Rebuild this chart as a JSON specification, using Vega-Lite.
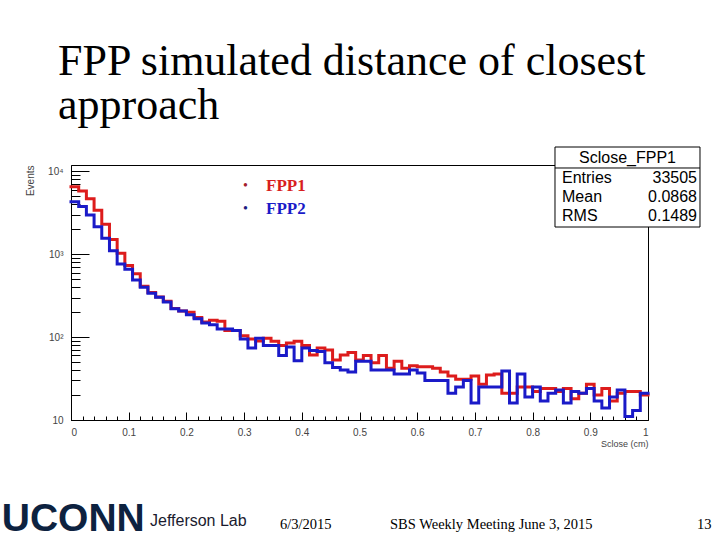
{
  "$schema": "https://vega.github.io/schema/vega-lite/v6.json",
  "width": 577,
  "height": 255,
  "autosize": "none",
  "padding": {"left": 71, "top": 165, "right": 72, "bottom": 120},
  "background": "white",
  "title": {
    "text": ["FPP simulated distance of closest", "approach"],
    "anchor": "start",
    "frame": "group",
    "font": "Liberation Serif",
    "fontSize": 44,
    "fontWeight": "normal",
    "color": "black",
    "lineHeight": 44,
    "dx": -13,
    "offset": 19
  },
  "config": {
    "view": {"stroke": "black", "strokeWidth": 1},
    "axis": {
      "grid": false,
      "domainColor": "black",
      "tickColor": "black",
      "labelFont": "Liberation Sans",
      "labelFontSize": 10,
      "labelColor": "#444",
      "titleFont": "Liberation Sans",
      "titleFontSize": 10,
      "titleFontWeight": "normal",
      "titleColor": "#444"
    }
  },
  "datasets": {
    "hist": [
      {"lo": 0, "hi": 0.01333, "FPP1": 6500, "FPP2": 4300},
      {"lo": 0.01333, "hi": 0.02667, "FPP1": 5800, "FPP2": 3750},
      {"lo": 0.02667, "hi": 0.04, "FPP1": 4650, "FPP2": 2970},
      {"lo": 0.04, "hi": 0.05333, "FPP1": 3400, "FPP2": 2150},
      {"lo": 0.05333, "hi": 0.06667, "FPP1": 2300, "FPP2": 1560},
      {"lo": 0.06667, "hi": 0.08, "FPP1": 1500, "FPP2": 1100},
      {"lo": 0.08, "hi": 0.09333, "FPP1": 1030, "FPP2": 764},
      {"lo": 0.09333, "hi": 0.10667, "FPP1": 730, "FPP2": 660},
      {"lo": 0.10667, "hi": 0.12, "FPP1": 580, "FPP2": 490},
      {"lo": 0.12, "hi": 0.13333, "FPP1": 410, "FPP2": 400},
      {"lo": 0.13333, "hi": 0.14667, "FPP1": 345, "FPP2": 339},
      {"lo": 0.14667, "hi": 0.16, "FPP1": 305, "FPP2": 303},
      {"lo": 0.16, "hi": 0.17333, "FPP1": 270, "FPP2": 265},
      {"lo": 0.17333, "hi": 0.18667, "FPP1": 222, "FPP2": 219},
      {"lo": 0.18667, "hi": 0.2, "FPP1": 207, "FPP2": 207},
      {"lo": 0.2, "hi": 0.21333, "FPP1": 200, "FPP2": 186},
      {"lo": 0.21333, "hi": 0.22667, "FPP1": 172, "FPP2": 166},
      {"lo": 0.22667, "hi": 0.24, "FPP1": 152, "FPP2": 148},
      {"lo": 0.24, "hi": 0.25333, "FPP1": 160, "FPP2": 141},
      {"lo": 0.25333, "hi": 0.26667, "FPP1": 155, "FPP2": 125},
      {"lo": 0.26667, "hi": 0.28, "FPP1": 120, "FPP2": 125},
      {"lo": 0.28, "hi": 0.29333, "FPP1": 120, "FPP2": 120},
      {"lo": 0.29333, "hi": 0.30667, "FPP1": 104, "FPP2": 95},
      {"lo": 0.30667, "hi": 0.32, "FPP1": 95, "FPP2": 74},
      {"lo": 0.32, "hi": 0.33333, "FPP1": 90, "FPP2": 97},
      {"lo": 0.33333, "hi": 0.34667, "FPP1": 97, "FPP2": 79},
      {"lo": 0.34667, "hi": 0.36, "FPP1": 89, "FPP2": 79},
      {"lo": 0.36, "hi": 0.37333, "FPP1": 79, "FPP2": 60},
      {"lo": 0.37333, "hi": 0.38667, "FPP1": 85, "FPP2": 76},
      {"lo": 0.38667, "hi": 0.4, "FPP1": 89, "FPP2": 52},
      {"lo": 0.4, "hi": 0.41333, "FPP1": 79, "FPP2": 74},
      {"lo": 0.41333, "hi": 0.42667, "FPP1": 61, "FPP2": 69},
      {"lo": 0.42667, "hi": 0.44, "FPP1": 74, "FPP2": 67},
      {"lo": 0.44, "hi": 0.45333, "FPP1": 70, "FPP2": 49},
      {"lo": 0.45333, "hi": 0.46667, "FPP1": 53, "FPP2": 43},
      {"lo": 0.46667, "hi": 0.48, "FPP1": 61, "FPP2": 40},
      {"lo": 0.48, "hi": 0.49333, "FPP1": 65, "FPP2": 38},
      {"lo": 0.49333, "hi": 0.50667, "FPP1": 53, "FPP2": 51},
      {"lo": 0.50667, "hi": 0.52, "FPP1": 60, "FPP2": 51},
      {"lo": 0.52, "hi": 0.53333, "FPP1": 49, "FPP2": 40},
      {"lo": 0.53333, "hi": 0.54667, "FPP1": 60, "FPP2": 40},
      {"lo": 0.54667, "hi": 0.56, "FPP1": 42, "FPP2": 40},
      {"lo": 0.56, "hi": 0.57333, "FPP1": 51, "FPP2": 36},
      {"lo": 0.57333, "hi": 0.58667, "FPP1": 42, "FPP2": 36},
      {"lo": 0.58667, "hi": 0.6, "FPP1": 45, "FPP2": 40},
      {"lo": 0.6, "hi": 0.61333, "FPP1": 44, "FPP2": 37},
      {"lo": 0.61333, "hi": 0.62667, "FPP1": 44, "FPP2": 30},
      {"lo": 0.62667, "hi": 0.64, "FPP1": 42, "FPP2": 30},
      {"lo": 0.64, "hi": 0.65333, "FPP1": 38, "FPP2": 30},
      {"lo": 0.65333, "hi": 0.66667, "FPP1": 34, "FPP2": 21},
      {"lo": 0.66667, "hi": 0.68, "FPP1": 31, "FPP2": 25},
      {"lo": 0.68, "hi": 0.69333, "FPP1": 31, "FPP2": 30},
      {"lo": 0.69333, "hi": 0.70667, "FPP1": 34, "FPP2": 16},
      {"lo": 0.70667, "hi": 0.72, "FPP1": 27, "FPP2": 25},
      {"lo": 0.72, "hi": 0.73333, "FPP1": 35, "FPP2": 25},
      {"lo": 0.73333, "hi": 0.74667, "FPP1": 36, "FPP2": 25},
      {"lo": 0.74667, "hi": 0.76, "FPP1": 21, "FPP2": 39},
      {"lo": 0.76, "hi": 0.77333, "FPP1": 21, "FPP2": 16},
      {"lo": 0.77333, "hi": 0.78667, "FPP1": 25, "FPP2": 36},
      {"lo": 0.78667, "hi": 0.8, "FPP1": 25, "FPP2": 19},
      {"lo": 0.8, "hi": 0.81333, "FPP1": 22, "FPP2": 25},
      {"lo": 0.81333, "hi": 0.82667, "FPP1": 24, "FPP2": 17},
      {"lo": 0.82667, "hi": 0.84, "FPP1": 24, "FPP2": 21},
      {"lo": 0.84, "hi": 0.85333, "FPP1": 22, "FPP2": 23},
      {"lo": 0.85333, "hi": 0.86667, "FPP1": 24, "FPP2": 16},
      {"lo": 0.86667, "hi": 0.88, "FPP1": 18, "FPP2": 22},
      {"lo": 0.88, "hi": 0.89333, "FPP1": 21, "FPP2": 21},
      {"lo": 0.89333, "hi": 0.90667, "FPP1": 27, "FPP2": 24},
      {"lo": 0.90667, "hi": 0.92, "FPP1": 20, "FPP2": 17},
      {"lo": 0.92, "hi": 0.93333, "FPP1": 24, "FPP2": 14},
      {"lo": 0.93333, "hi": 0.94667, "FPP1": 17, "FPP2": 19},
      {"lo": 0.94667, "hi": 0.96, "FPP1": 21, "FPP2": 23},
      {"lo": 0.96, "hi": 0.97333, "FPP1": 22, "FPP2": 11},
      {"lo": 0.97333, "hi": 0.98667, "FPP1": 22, "FPP2": 13},
      {"lo": 0.98667, "hi": 1, "FPP1": 20, "FPP2": 21}
    ]
  },
  "layer": [
    {
      "data": {"name": "hist"},
      "transform": [{"fold": ["lo", "hi"], "as": ["edge", "x"]}],
      "mark": {"type": "line", "color": "#dd1c1c", "strokeWidth": 3, "strokeJoin": "miter", "strokeCap": "square"},
      "encoding": {
        "x": {
          "field": "x", "type": "quantitative",
          "scale": {"domain": [0, 1], "nice": false, "zero": false},
          "axis": {
            "orient": "bottom",
            "values": [0, 0.1, 0.2, 0.3, 0.4, 0.5, 0.6, 0.7, 0.8, 0.9, 1],
            "format": "~g",
            "tickSize": -8,
            "labelPadding": 15,
            "title": "Sclose (cm)",
            "titleAnchor": "end",
            "titleFontSize": 9,
            "titlePadding": 2
          }
        },
        "y": {
          "field": "FPP1", "type": "quantitative",
          "scale": {"type": "log", "domain": [10, 11910], "nice": false},
          "axis": {
            "orient": "left",
            "values": [10, 100, 1000, 10000],
            "labelExpr": "datum.value >= 9000 ? '10⁴' : datum.value >= 900 ? '10³' : datum.value >= 90 ? '10²' : '10'",
            "tickSize": -18,
            "labelPadding": 26,
            "title": "Events",
            "titleAnchor": "end",
            "titlePadding": 12
          }
        },
        "order": [{"field": "x", "type": "quantitative"}, {"field": "edge", "type": "nominal"}]
      }
    },
    {
      "data": {"name": "hist"},
      "transform": [{"fold": ["lo", "hi"], "as": ["edge", "x"]}],
      "mark": {"type": "line", "color": "#1a1ac8", "strokeWidth": 3, "strokeJoin": "miter", "strokeCap": "square"},
      "encoding": {
        "x": {
          "field": "x", "type": "quantitative",
          "axis": {
            "orient": "bottom",
            "values": [0.02, 0.04, 0.06, 0.08, 0.12, 0.14, 0.16, 0.18, 0.22, 0.24, 0.26, 0.28, 0.32, 0.34, 0.36, 0.38, 0.42, 0.44, 0.46, 0.48, 0.52, 0.54, 0.56, 0.58, 0.62, 0.64, 0.66, 0.68, 0.72, 0.74, 0.76, 0.78, 0.82, 0.84, 0.86, 0.88, 0.92, 0.94, 0.96, 0.98],
            "tickSize": -4,
            "labels": false,
            "domain": false,
            "title": null
          }
        },
        "y": {
          "field": "FPP2", "type": "quantitative",
          "axis": {
            "orient": "left",
            "values": [20, 30, 40, 50, 60, 70, 80, 90, 200, 300, 400, 500, 600, 700, 800, 900, 2000, 3000, 4000, 5000, 6000, 7000, 8000, 9000],
            "tickSize": -9,
            "labels": false,
            "domain": false,
            "title": null
          }
        },
        "order": [{"field": "x", "type": "quantitative"}, {"field": "edge", "type": "nominal"}]
      }
    },
    {
      "data": {"values": [{}]},
      "mark": {"type": "text", "text": "•", "font": "Liberation Serif", "fontSize": 14, "color": "#a3202a", "align": "left", "baseline": "middle"},
      "encoding": {
        "x": {"datum": 0.2981, "type": "quantitative", "axis": null},
        "y": {"datum": 6646, "type": "quantitative", "axis": null}
      }
    },
    {
      "data": {"values": [{}]},
      "mark": {"type": "text", "text": "FPP1", "font": "Liberation Serif", "fontSize": 17, "fontWeight": "bold", "color": "#d81e1e", "align": "left", "baseline": "middle"},
      "encoding": {
        "x": {"datum": 0.338, "type": "quantitative", "axis": null},
        "y": {"datum": 6646, "type": "quantitative", "axis": null}
      }
    },
    {
      "data": {"values": [{}]},
      "mark": {"type": "text", "text": "•", "font": "Liberation Serif", "fontSize": 14, "color": "#1c1c80", "align": "left", "baseline": "middle"},
      "encoding": {
        "x": {"datum": 0.2981, "type": "quantitative", "axis": null},
        "y": {"datum": 3510, "type": "quantitative", "axis": null}
      }
    },
    {
      "data": {"values": [{}]},
      "mark": {"type": "text", "text": "FPP2", "font": "Liberation Serif", "fontSize": 17, "fontWeight": "bold", "color": "#1a1ac8", "align": "left", "baseline": "middle"},
      "encoding": {
        "x": {"datum": 0.338, "type": "quantitative", "axis": null},
        "y": {"datum": 3510, "type": "quantitative", "axis": null}
      }
    },
    {
      "data": {"values": [{}]},
      "mark": {"type": "rect", "fill": "white", "stroke": "black", "strokeWidth": 1},
      "encoding": {
        "x": {"datum": 0.8388, "type": "quantitative", "axis": null},
        "x2": {"datum": 1.0901},
        "y": {"datum": 19634, "type": "quantitative", "axis": null},
        "y2": {"datum": 2128}
      }
    },
    {
      "data": {"values": [{}]},
      "mark": {"type": "rule", "color": "black", "strokeWidth": 1},
      "encoding": {
        "x": {"datum": 0.8388, "type": "quantitative", "axis": null},
        "x2": {"datum": 1.0901},
        "y": {"datum": 10958, "type": "quantitative", "axis": null}
      }
    },
    {
      "data": {"values": [{}]},
      "mark": {"type": "text", "text": "Sclose_FPP1", "font": "Liberation Sans", "fontSize": 16, "color": "black", "align": "center", "baseline": "middle"},
      "encoding": {
        "x": {"datum": 0.9645, "type": "quantitative", "axis": null},
        "y": {"datum": 14468, "type": "quantitative", "axis": null}
      }
    },
    {
      "data": {"values": [{}]},
      "mark": {"type": "text", "text": ["Entries", "Mean", "RMS"], "lineHeight": 19, "font": "Liberation Sans", "fontSize": 16, "color": "black", "align": "left", "baseline": "middle"},
      "encoding": {
        "x": {"datum": 0.851, "type": "quantitative", "axis": null},
        "y": {"datum": 8303, "type": "quantitative", "axis": null}
      }
    },
    {
      "data": {"values": [{}]},
      "mark": {"type": "text", "text": ["33505", "0.0868", "0.1489"], "lineHeight": 19, "font": "Liberation Sans", "fontSize": 16, "color": "black", "align": "right", "baseline": "middle"},
      "encoding": {
        "x": {"datum": 1.0849, "type": "quantitative", "axis": null},
        "y": {"datum": 8303, "type": "quantitative", "axis": null}
      }
    },
    {
      "data": {"values": [{}]},
      "mark": {"type": "text", "text": "UCONN", "font": "Liberation Sans", "fontSize": 39, "fontWeight": "bold", "color": "#0d2240", "align": "left", "baseline": "bottom"},
      "encoding": {
        "x": {"datum": -0.12, "type": "quantitative", "axis": null},
        "y": {"datum": 0.3667, "type": "quantitative", "axis": null}
      }
    },
    {
      "data": {"values": [{}]},
      "mark": {"type": "text", "text": "Jefferson Lab", "font": "Liberation Sans", "fontSize": 16, "color": "#1a1a2e", "align": "left", "baseline": "middle"},
      "encoding": {
        "x": {"datum": 0.1369, "type": "quantitative", "axis": null},
        "y": {"datum": 0.605, "type": "quantitative", "axis": null}
      }
    },
    {
      "data": {"values": [{}]},
      "mark": {"type": "text", "text": "6/3/2015", "font": "Liberation Serif", "fontSize": 14.5, "color": "black", "align": "left", "baseline": "middle"},
      "encoding": {
        "x": {"datum": 0.3622, "type": "quantitative", "axis": null},
        "y": {"datum": 0.541, "type": "quantitative", "axis": null}
      }
    },
    {
      "data": {"values": [{}]},
      "mark": {"type": "text", "text": "SBS Weekly Meeting June 3, 2015", "font": "Liberation Serif", "fontSize": 14.5, "color": "black", "align": "left", "baseline": "middle"},
      "encoding": {
        "x": {"datum": 0.5529, "type": "quantitative", "axis": null},
        "y": {"datum": 0.541, "type": "quantitative", "axis": null}
      }
    },
    {
      "data": {"values": [{}]},
      "mark": {"type": "text", "text": "13", "font": "Liberation Serif", "fontSize": 14.5, "color": "black", "align": "left", "baseline": "middle"},
      "encoding": {
        "x": {"datum": 1.0849, "type": "quantitative", "axis": null},
        "y": {"datum": 0.541, "type": "quantitative", "axis": null}
      }
    }
  ],
  "resolve": {"axis": {"x": "independent", "y": "independent"}}
}
